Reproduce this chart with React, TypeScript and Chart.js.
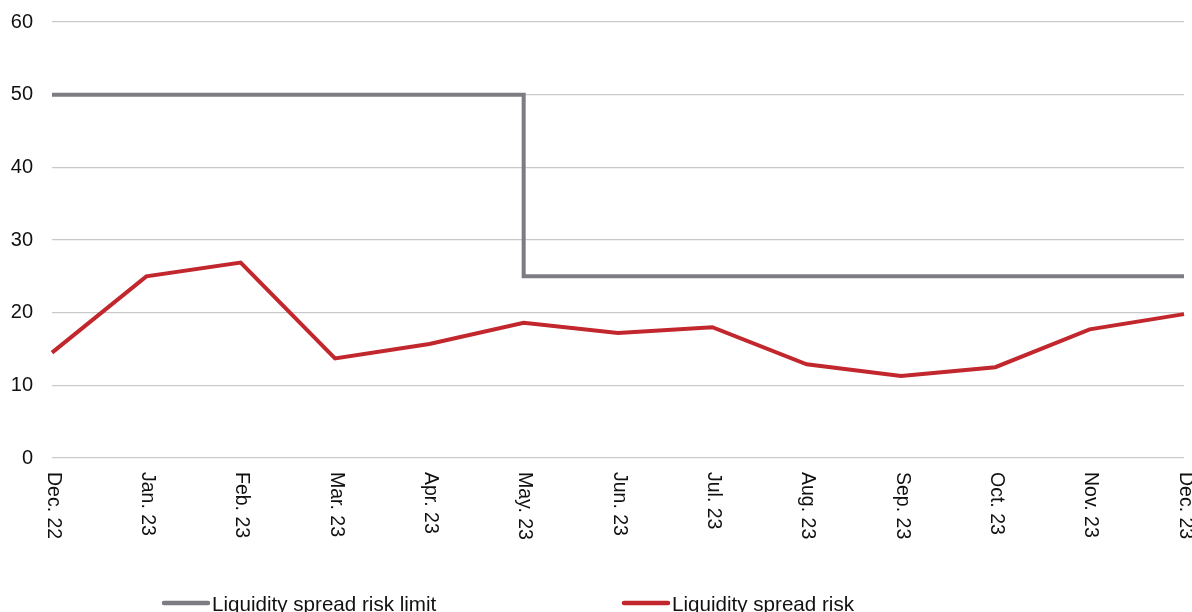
import React, { useEffect, useRef } from "react";
import { Chart, registerables } from "chart.js";

Chart.register(...registerables);

const categories = [
  "Dec. 22", "Jan. 23", "Feb. 23", "Mar. 23", "Apr. 23", "May. 23", "Jun. 23",
  "Jul. 23", "Aug. 23", "Sep. 23", "Oct. 23", "Nov. 23", "Dec. 23",
];
const limitLabel = "Liquidity spread risk limit";
const riskLabel = "Liquidity spread risk";
const limitValues = [50, 50, 50, 50, 50, 25, 25, 25, 25, 25, 25, 25, 25];
const riskValues = [14.5, 25.0, 26.9, 13.7, 15.7, 18.6, 17.2, 18.0, 12.9, 11.3, 12.5, 17.7, 19.8];
const yTicks = [0, 10, 20, 30, 40, 50, 60];

const FONT = "'Liberation Sans', Arial, sans-serif";
const GRAY = "#7c7c82";
const RED = "#c1272d";

const customDraw = {
  id: "customDraw",
  afterDraw(chart: any) {
    const ctx = chart.ctx;
    const x = chart.scales.x;
    const area = chart.chartArea;
    ctx.save();
    // rotated x labels (clockwise)
    ctx.fillStyle = "#111";
    ctx.font = `19.5px ${FONT}`;
    ctx.textAlign = "left";
    ctx.textBaseline = "middle";
    categories.forEach((lab, i) => {
      const px = x.getPixelForValue(i);
      ctx.save();
      ctx.translate(px + 1, area.bottom + 14);
      ctx.rotate(Math.PI / 2);
      ctx.fillText(lab, 0, 0);
      ctx.restore();
    });
    // legend
    const items = [
      { label: limitLabel, color: GRAY, x0: 162 },
      { label: riskLabel, color: RED, x0: 622 },
    ];
    ctx.font = `20.6px ${FONT}`;
    ctx.textBaseline = "alphabetic";
    items.forEach((it) => {
      ctx.strokeStyle = it.color;
      ctx.lineWidth = 4.5;
      ctx.lineCap = "round";
      ctx.beginPath();
      ctx.moveTo(it.x0 + 2, 603);
      ctx.lineTo(it.x0 + 46, 603);
      ctx.stroke();
      ctx.fillStyle = "#111";
      ctx.fillText(it.label, it.x0 + 50, 611);
    });
    ctx.restore();
  },
};

export default function App() {
  const ref = useRef<HTMLCanvasElement | null>(null);
  useEffect(() => {
    document.body.style.margin = "0";
    const chart = new Chart(ref.current as HTMLCanvasElement, {
      type: "line",
      data: {
        labels: categories,
        datasets: [
          {
            label: limitLabel,
            data: limitValues,
            borderColor: GRAY,
            backgroundColor: GRAY,
            borderWidth: 4,
            pointRadius: 0,
            stepped: "before",
            order: 2,
          },
          {
            label: riskLabel,
            data: riskValues,
            borderColor: RED,
            backgroundColor: RED,
            borderWidth: 4,
            pointRadius: 0,
            tension: 0,
            order: 1,
          },
        ],
      },
      options: {
        responsive: false,
        animation: false,
        layout: { padding: { left: 0, right: 8, top: 22, bottom: 0 } },
        plugins: { legend: { display: false }, tooltip: { enabled: false } },
        scales: {
          x: {
            type: "category",
            offset: false,
            grid: { display: false },
            border: { display: false },
            ticks: { display: false },
            afterFit: (s: any) => {
              s.height = 154;
              s.paddingLeft = 0;
              s.paddingRight = 0;
            },
          },
          y: {
            min: 0,
            max: 60,
            afterBuildTicks: (s: any) => {
              s.ticks = yTicks.map((v) => ({ value: v }));
            },
            grid: { color: "#c9c9c9", lineWidth: 1.2, drawTicks: false },
            border: { display: false },
            ticks: {
              color: "#111",
              padding: 19,
              font: { family: FONT, size: 20 },
            },
            afterFit: (s: any) => {
              s.width = 52;
              s.paddingTop = 0;
              s.paddingBottom = 0;
            },
          },
        },
      },
      plugins: [customDraw],
    });
    return () => chart.destroy();
  }, []);
  return (
    <div style={{ width: 1192, height: 612 }}>
      <canvas ref={ref} width={1192} height={612} style={{ display: "block" }} />
    </div>
  );
}
